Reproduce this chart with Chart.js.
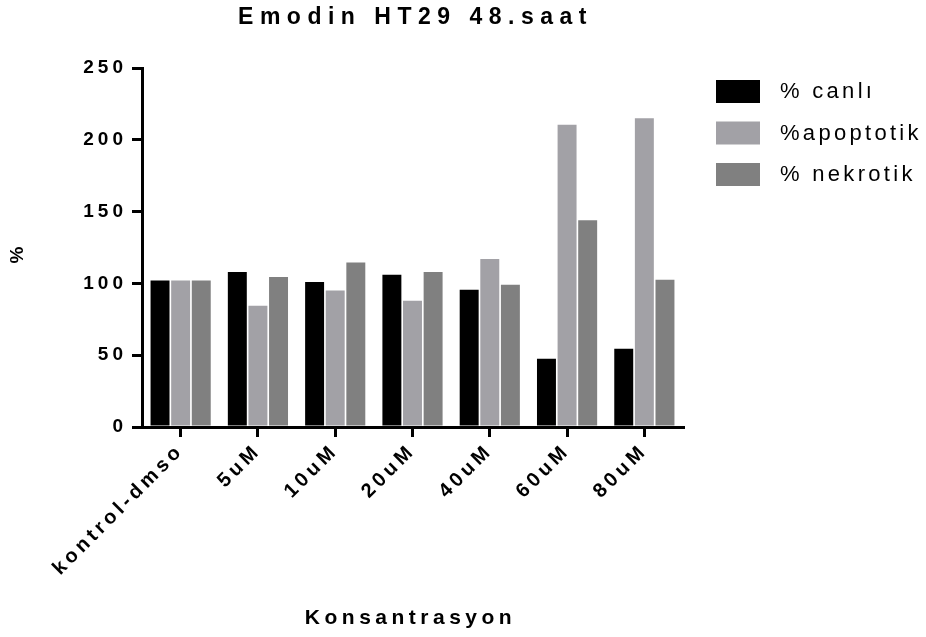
<!DOCTYPE html>
<html>
<head>
<meta charset="utf-8">
<script src="https://cdn.jsdelivr.net/npm/chart.js@4.4.1/dist/chart.umd.min.js"></script>
<style>
html, body { margin: 0; padding: 0; background: #fff; }
canvas { display: block; }
</style>
</head>
<body>
<canvas id="grafik" width="926" height="637"></canvas>
<script>
// --- VERİ ---
const kategoriler = ["kontrol-dmso", "5uM", "10uM", "20uM", "40uM", "60uM", "80uM"];
const canli = [102, 108, 101, 106, 95.5, 47.5, 54.5];
const apoptotik = [102, 84.5, 95, 88, 117, 210.5, 215];
const nekrotik = [102, 104.5, 114.5, 108, 99, 144, 102.5];
const yTikler = [0, 50, 100, 150, 200, 250];

const FONT = '"Liberation Sans", Arial, sans-serif';

// --- YAZILAR (başlık, eksen adları, lejant) ---
const yaziEklentisi = {
    id: 'yazilar',
    beforeLayout(chart) { chart.ctx.letterSpacing = '4px'; },
    beforeDraw(chart) {
        const ctx = chart.ctx;
        ctx.save();
        ctx.fillStyle = '#fff';
        ctx.fillRect(0, 0, chart.width, chart.height);
        ctx.restore();
        ctx.letterSpacing = '4px';
    },
    afterDraw(chart) {
        const ctx = chart.ctx;
        const a = chart.chartArea;
        const orta = (a.left + a.right) / 2;
        ctx.save();
        ctx.fillStyle = '#000';
        ctx.textBaseline = 'middle';

        // başlık
        ctx.font = 'bold 23px ' + FONT;
        ctx.letterSpacing = '6.5px';
        ctx.textAlign = 'center';
        ctx.fillText('Emodin HT29 48.saat', orta + 3, 18);

        // x ekseni adı
        ctx.font = 'bold 21px ' + FONT;
        ctx.letterSpacing = '4.5px';
        ctx.fillText('Konsantrasyon', orta - 2, 618);

        // y ekseni adı
        ctx.save();
        ctx.translate(18, 255);
        ctx.rotate(-Math.PI / 2);
        ctx.font = 'bold 19px ' + FONT;
        ctx.letterSpacing = '0px';
        ctx.fillText('%', 0, 0);
        ctx.restore();

        // lejant
        ctx.font = '22px ' + FONT;
        ctx.letterSpacing = '3.3px';
        ctx.textAlign = 'left';
        chart.data.datasets.forEach((ds, i) => {
            const y = 80 + i * 41.5;
            ctx.fillStyle = ds.backgroundColor;
            ctx.fillRect(716, y, 44, 23);
            ctx.fillStyle = '#000';
            ctx.fillText(ds.label, 780, y + 12);
        });
        ctx.restore();
    }
};

const ctx = document.getElementById('grafik');
new Chart(ctx, {
    type: 'bar',
    data: {
        labels: kategoriler,
        datasets: [
            { label: '% canlı', data: canli, backgroundColor: '#000000' },
            { label: '%apoptotik', data: apoptotik, backgroundColor: '#a2a1a6' },
            { label: '% nekrotik', data: nekrotik, backgroundColor: '#808080' }
        ]
    },
    options: {
        responsive: false,
        animation: false,
        events: [],
        layout: { padding: { top: 68, right: 243, left: 0, bottom: 0 } },
        datasets: { bar: { categoryPercentage: 0.8, barPercentage: 0.92, borderWidth: 0 } },
        plugins: { legend: { display: false }, title: { display: false }, tooltip: { enabled: false } },
        scales: {
            x: {
                offset: true,
                grid: { display: true, offset: false, drawOnChartArea: false, drawTicks: true, tickLength: 10, color: '#000', lineWidth: 3 },
                border: { display: true, color: '#000', width: 3 },
                ticks: {
                    color: '#000', font: { family: FONT, size: 20, weight: 'bold' },
                    minRotation: 45, maxRotation: 45, autoSkip: false, padding: 2
                },
                afterFit(scale) { scale.height = 637 - 427; }
            },
            y: {
                min: 0, max: 250,
                afterBuildTicks(scale) { scale.ticks = yTikler.map(v => ({ value: v })); },
                grid: { display: true, drawOnChartArea: false, drawTicks: true, tickLength: 10, color: '#000', lineWidth: 3 },
                border: { display: true, color: '#000', width: 3 },
                ticks: { color: '#000', font: { family: FONT, size: 19, weight: 'bold' }, padding: 5 },
                afterFit(scale) { scale.width = 142; }
            }
        }
    },
    plugins: [yaziEklentisi]
});
</script>
</body>
</html>
